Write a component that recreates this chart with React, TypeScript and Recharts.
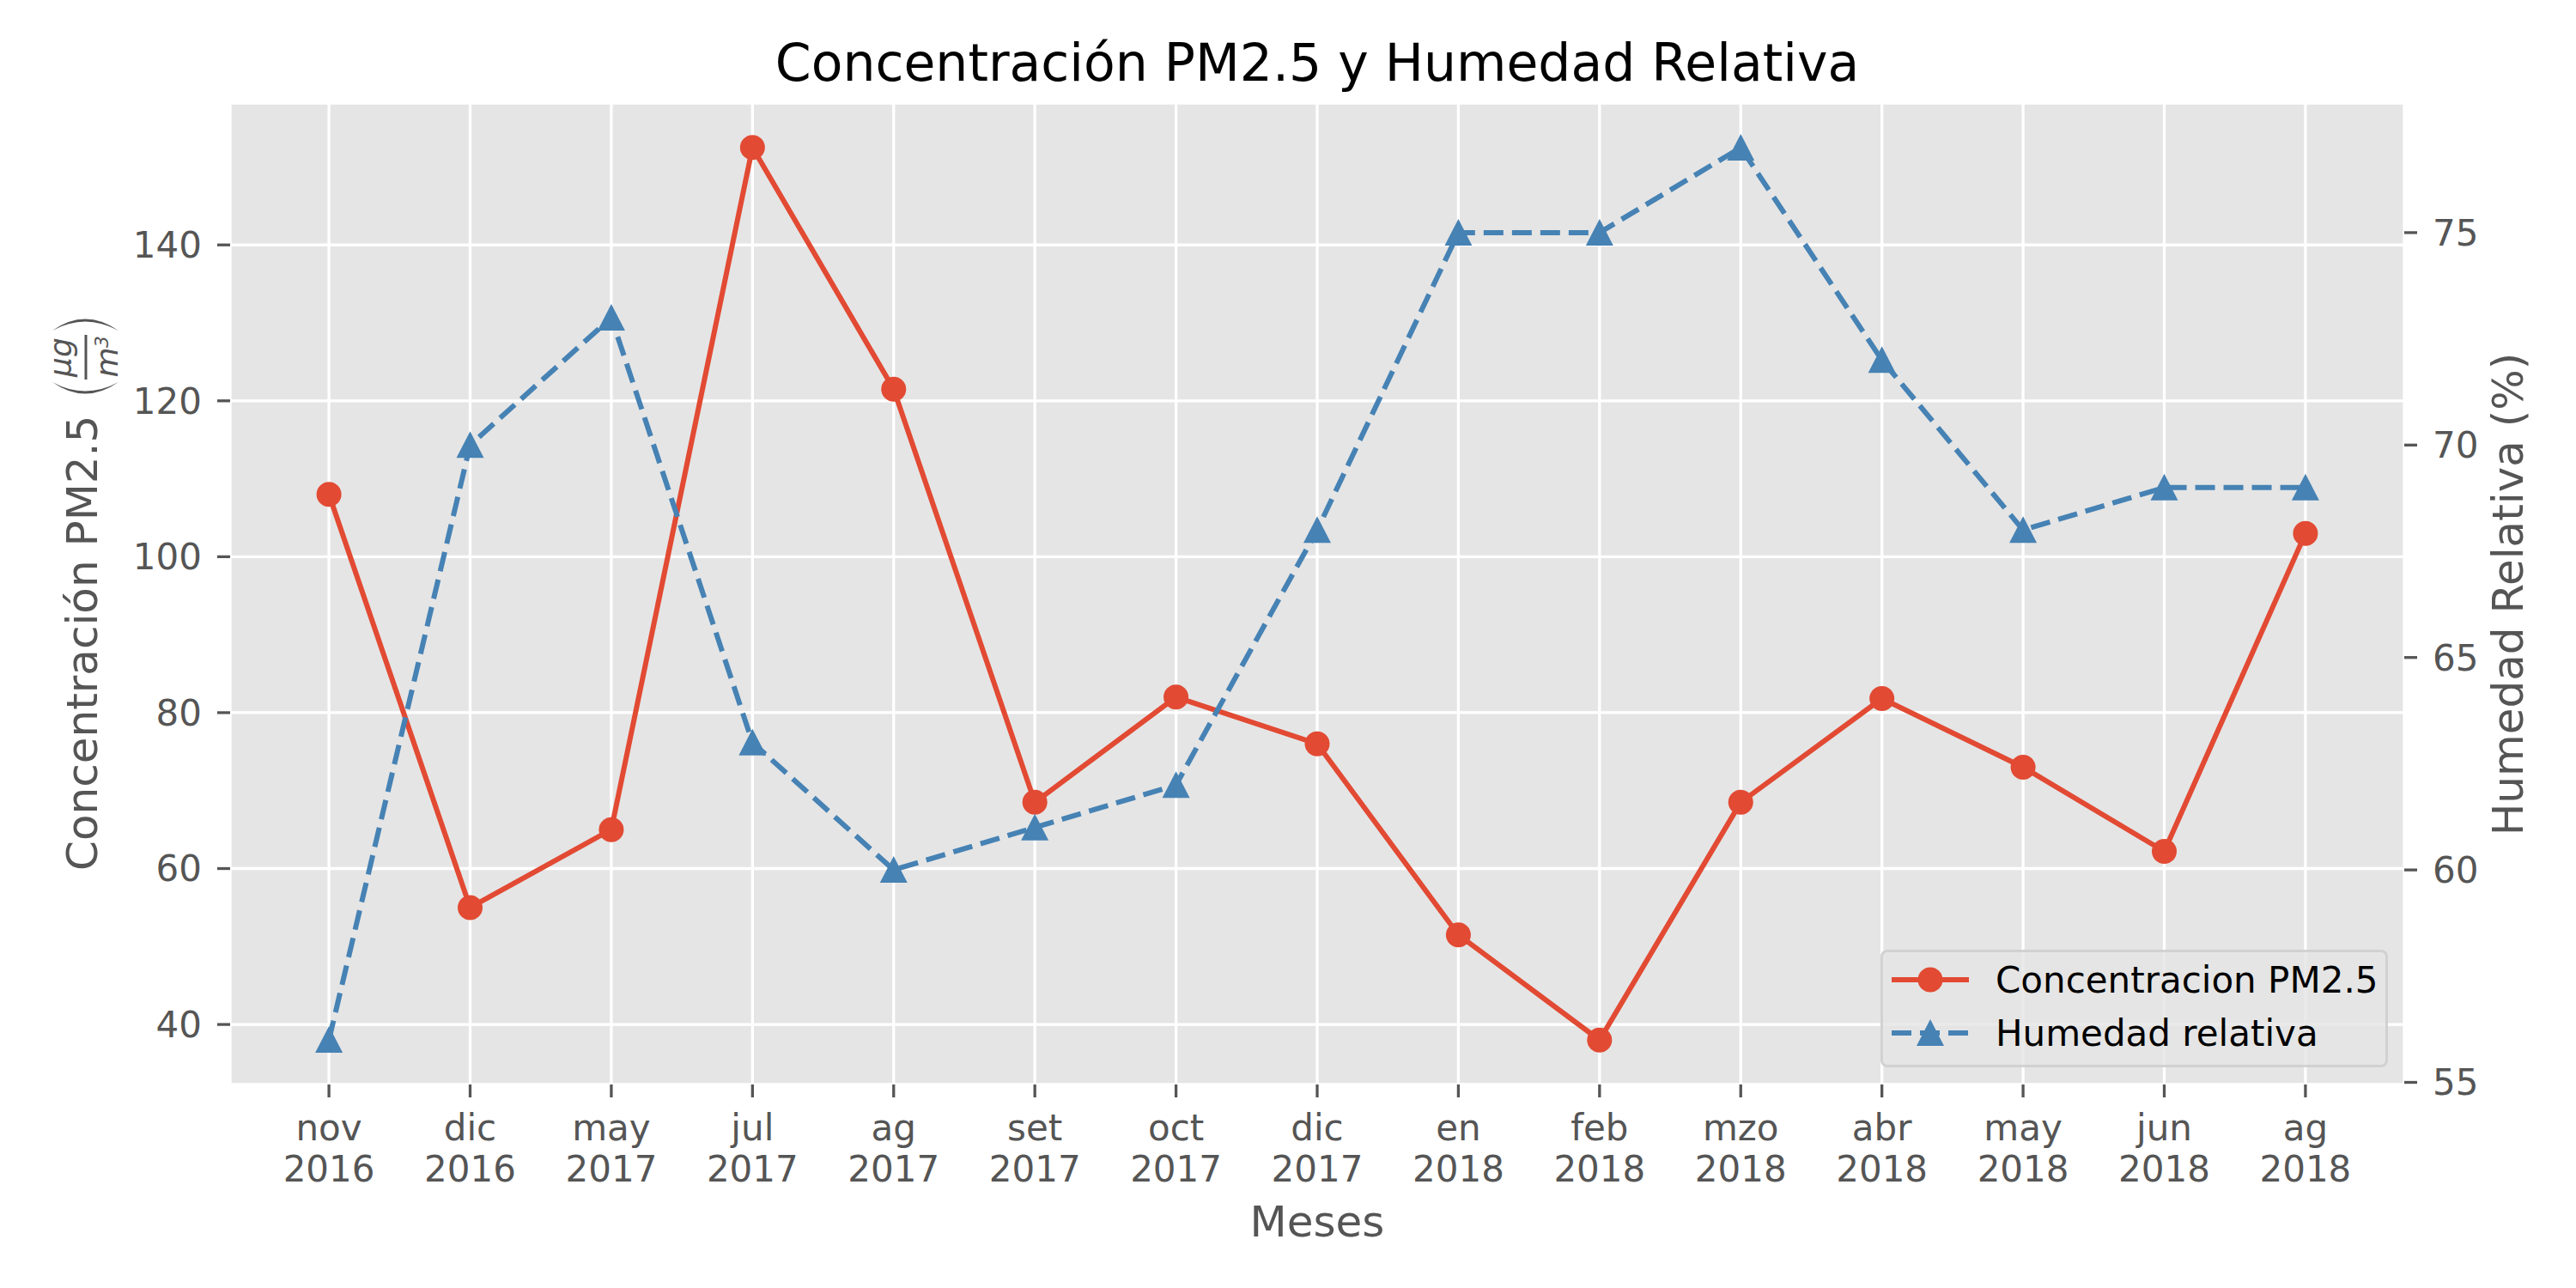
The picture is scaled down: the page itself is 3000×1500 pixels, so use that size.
import React from "react";
import {
  CartesianGrid,
  Legend,
  Line,
  LineChart,
  XAxis,
  YAxis,
} from "recharts";

// Meses de muestreo (etiqueta de dos líneas: mes / año)
const meses = ["nov", "dic", "may", "jul", "ag", "set", "oct", "dic", "en", "feb", "mzo", "abr", "may", "jun", "ag"];
const anios = ["2016", "2016", "2017", "2017", "2017", "2017", "2017", "2017", "2018", "2018", "2018", "2018", "2018", "2018", "2018"];

// Concentración PM2.5 (µg/m³)
const pm25 = [108, 55, 65, 152.5, 121.5, 68.5, 82, 76, 51.5, 38, 68.5, 81.8, 73, 62.2, 103];
// Humedad relativa (%)
const humedad = [56, 70, 73, 63, 60, 61, 62, 68, 75, 75, 77, 72, 68, 69, 69];

const pmTicks = [40, 60, 80, 100, 120, 140];
const hrTicks = [55, 60, 65, 70, 75];

const RED = "#E24A33";
const BLUE = "#4682B4";
const GRAY = "#555555";
const FONT = "DejaVu Sans";

const data = meses.map((m, i) => ({
  idx: i,
  pm25: pm25[i],
  humedad: humedad[i],
}));

const W = 3000;
const H = 1500;
const PLOT = { left: 268, right: 2800, top: 120, bottom: 1263 };

function XTick({ x, y, payload }: any) {
  const i = payload.value as number;
  return (
    <g>
      <text x={x} y={y + 50} textAnchor="middle" fontSize={42} fill={GRAY} fontFamily={FONT}>
        {meses[i]}
      </text>
      <text x={x} y={y + 98} textAnchor="middle" fontSize={42} fill={GRAY} fontFamily={FONT}>
        {anios[i]}
      </text>
    </g>
  );
}

function CircleDot({ cx, cy, index }: any) {
  return <circle key={`c-${index}`} cx={cx} cy={cy} r={14.5} fill={RED} />;
}

function TriangleDot({ cx, cy, index }: any) {
  return (
    <path
      key={`t-${index}`}
      d={`M${cx},${cy - 16} L${cx + 16},${cy + 15} L${cx - 16},${cy + 15} Z`}
      fill={BLUE}
    />
  );
}

// etiqueta del eje izquierdo con la fracción µg / m³ entre paréntesis
function LeftLabel() {
  return (
    <g transform="translate(93,692) rotate(-90)" fontFamily={FONT} fill={GRAY}>
      <text x={-322} y={20} fontSize={50}>
        Concentración PM2.5
      </text>
      <path d="M247,-32 Q220,6 247,45 Q226,6 247,-32 Z" />
      <path d="M307,-32 Q334,6 307,45 Q328,6 307,-32 Z" />
      <line x1={250} x2={302} y1={7} y2={7} stroke={GRAY} strokeWidth={3} />
      <text x={276} y={-10} fontSize={36} fontStyle="italic" textAnchor="middle">
        μg
      </text>
      <text x={270} y={44} fontSize={36} fontStyle="italic" textAnchor="middle">
        m
      </text>
      <text x={294} y={33} fontSize={22} fontStyle="italic" textAnchor="middle">
        3
      </text>
    </g>
  );
}

function RightLabel() {
  return (
    <text
      transform="translate(2938,692) rotate(-90)"
      textAnchor="middle"
      fontSize={50}
      fill={GRAY}
      fontFamily={FONT}
    >
      Humedad Relativa (%)
    </text>
  );
}

function BottomLabel() {
  return (
    <text x={(PLOT.left + PLOT.right) / 2} y={1440} textAnchor="middle" fontSize={50} fill={GRAY} fontFamily={FONT}>
      Meses
    </text>
  );
}

function LegendBox({ payload }: any) {
  const items = (payload || []) as any[];
  return (
    <div
      style={{
        width: 591,
        height: 137,
        boxSizing: "border-box",
        background: "rgba(229,229,229,0.8)",
        border: "3px solid rgba(204,204,204,0.8)",
        borderRadius: 8,
      }}
    >
      <svg width={585} height={131} style={{ display: "block" }}>
        {items.map((it, k) => {
          const cy = 32 + k * 62;
          const isPm = it.dataKey === "pm25";
          return (
            <g key={it.dataKey}>
              <line
                x1={10}
                x2={100}
                y1={cy}
                y2={cy}
                stroke={it.color}
                strokeWidth={6}
                strokeDasharray={isPm ? undefined : "23 10"}
              />
              {isPm ? (
                <circle cx={55} cy={cy} r={14.5} fill={it.color} />
              ) : (
                <path d={`M55,${cy - 16} L71,${cy + 15} L39,${cy + 15} Z`} fill={it.color} />
              )}
              <text x={131} y={cy + 15} fontSize={42} fill="#000" fontFamily={FONT}>
                {it.value}
              </text>
            </g>
          );
        })}
      </svg>
    </div>
  );
}

export default function App() {
  return (
    <div style={{ position: "absolute", left: 0, top: 0, width: W, height: H, background: "#fff", fontFamily: FONT }}>
      <div
        style={{
          position: "absolute",
          left: PLOT.left,
          width: PLOT.right - PLOT.left,
          top: 43,
          lineHeight: "60px",
          fontSize: 60,
          textAlign: "center",
          color: "#000",
          zIndex: 2,
        }}
      >
        Concentración PM2.5 y Humedad Relativa
      </div>
      <LineChart
        width={W}
        height={H}
        data={data}
        margin={{ top: PLOT.top, right: 0, bottom: 0, left: 0 }}
      >
        <CartesianGrid
          yAxisId="pm"
          fill="#E5E5E5"
          stroke="#FFFFFF"
          strokeWidth={3.3}
        />
        <XAxis
          dataKey="idx"
          type="number"
          domain={[-0.7, 14.7]}
          ticks={meses.map((_, i) => i)}
          interval={0}
          allowDataOverflow
          height={H - PLOT.bottom}
          axisLine={false}
          tickSize={15}
          tickMargin={0}
          tickLine={{ stroke: GRAY, strokeWidth: 3.3 }}
          tick={<XTick />}
          label={{ content: () => <BottomLabel /> }}
        />
        <YAxis
          yAxisId="pm"
          domain={[32.3, 158.2]}
          ticks={pmTicks}
          allowDataOverflow
          width={PLOT.left}
          axisLine={false}
          tickSize={15}
          tickMargin={18}
          tickLine={{ stroke: GRAY, strokeWidth: 3.3 }}
          tick={{ fontSize: 42, fill: GRAY, fontFamily: FONT }}
          label={{ content: () => <LeftLabel /> }}
        />
        <YAxis
          yAxisId="hr"
          orientation="right"
          domain={[54.95, 78.05]}
          ticks={hrTicks}
          allowDataOverflow
          width={W - PLOT.right}
          axisLine={false}
          tickSize={15}
          tickMargin={18}
          tickLine={{ stroke: GRAY, strokeWidth: 3.3 }}
          tick={{ fontSize: 42, fill: GRAY, fontFamily: FONT }}
          label={{ content: () => <RightLabel /> }}
        />
        <Line
          yAxisId="pm"
          dataKey="pm25"
          name="Concentracion PM2.5"
          stroke={RED}
          strokeWidth={6}
          dot={<CircleDot />}
          activeDot={false}
          isAnimationActive={false}
        />
        <Line
          yAxisId="hr"
          dataKey="humedad"
          name="Humedad relativa"
          stroke={BLUE}
          strokeWidth={6}
          strokeDasharray="23 10"
          dot={<TriangleDot />}
          activeDot={false}
          isAnimationActive={false}
        />
        <Legend
          layout="vertical"
          align="center"
          verticalAlign="middle"
          content={<LegendBox />}
          wrapperStyle={{ left: 2190, top: 1106, width: 591, height: 137 }}
        />
      </LineChart>
    </div>
  );
}
